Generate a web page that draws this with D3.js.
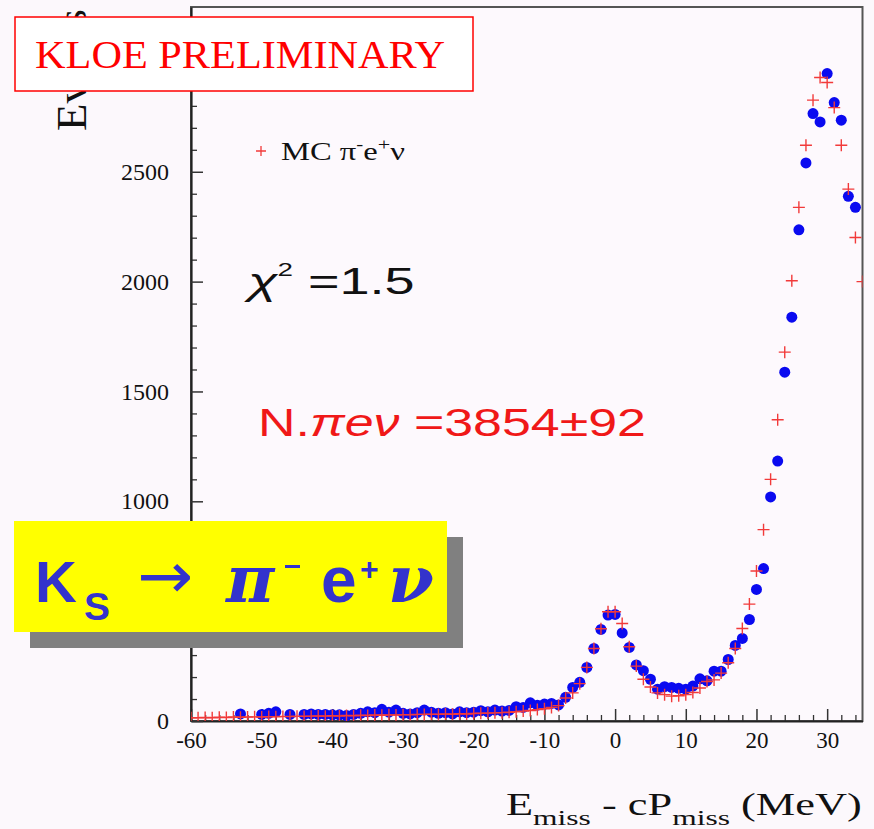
<!DOCTYPE html>
<html>
<head>
<meta charset="utf-8">
<script src="https://cdn.jsdelivr.net/npm/d3@7"></script>
<style>
  html, body { margin: 0; padding: 0; background: #fcf8fc; }
  svg { display: block; }
</style>
</head>
<body>
<svg id="chart" width="874" height="829"></svg>
<script>
// Missing energy minus missing momentum, 1 MeV bins
const dataBins = [-53,-50,-49,-48,-46,-44,-43,-42,-41,-40,-39,-38,-37,-36,-35,-34,-33,-32,-31,-30,
  -29,-28,-27,-26,-25,-24,-23,-22,-21,-20,-19,-18,-17,-16,-15,-14,-13,-12,-11,-10,
  -9,-8,-7,-6,-5,-4,-3,-2,-1,0,1,2,3,4,5,6,7,8,9,10,
  11,12,13,14,15,16,17,18,19,20,21,22,23,24,25,26,27,28,29,30,31,32,33,34];
const dataCounts = [32,30,35,42,30,30,32,30,30,28,28,25,30,35,42,38,53,40,50,35,
  32,38,50,40,35,38,32,42,38,40,47,42,50,45,48,65,62,83,72,77,
  80,73,108,153,176,244,330,417,482,485,401,335,255,229,190,145,156,153,149,145,
  159,192,183,227,227,280,344,376,462,599,694,1020,1183,1588,1838,2236,2540,2765,2727,2947,2815,2735,2388,2338];

const mcBins = [-60,-59,-58,-57,-56,-55,-54,-53,-52,-51,-50,-49,-48,-47,-46,-45,-44,-43,-42,-41,
  -40,-39,-38,-37,-36,-35,-34,-33,-32,-31,-30,-29,-28,-27,-26,-25,-24,-23,-22,-21,
  -20,-19,-18,-17,-16,-15,-14,-13,-12,-11,-10,-9,-8,-7,-6,-5,-4,-3,-2,-1,
  0,1,2,3,4,5,6,7,8,9,10,11,12,13,14,15,16,17,18,19,
  20,21,22,23,24,25,26,27,28,29,30,31,32,33,34,35];
const mcCounts = [15,15,16,15,17,16,18,17,18,19,18,20,19,21,20,22,21,22,23,22,
  24,23,25,24,26,25,27,26,28,27,29,28,30,30,31,30,32,31,33,32,
  34,35,36,37,38,40,42,45,48,52,56,62,70,105,128,170,244,330,420,497,
  497,444,338,250,190,155,128,120,113,115,120,130,150,180,187,218,265,330,421,532,
  683,871,1100,1371,1679,2004,2338,2621,2826,2929,2906,2792,2621,2421,2201,2000];

const xTicks = [-60,-50,-40,-30,-20,-10,0,10,20,30];
const yTicks = [0,500,1000,1500,2000,2500,3000];
// labels of 500 and 3000 sit under the two boxes
const yLabelled = [0,1000,1500,2000,2500];

const svg = d3.select("#chart");
const plotL = 191, plotR = 862.5, plotT = 7, plotB = 721;

const x = d3.scaleLinear().domain([-60, 35]).range([plotL, plotR]);
const y = d3.scaleLinear().domain([0, 3250]).range([plotB, plotT]);

svg.append("defs").append("clipPath").attr("id", "plotClip")
  .append("rect").attr("x", plotL).attr("y", plotT)
  .attr("width", plotR - plotL).attr("height", plotB - plotT);

// frame
svg.append("rect").attr("x", plotL).attr("y", plotT)
  .attr("width", plotR - plotL).attr("height", plotB - plotT)
  .attr("fill", "#fdf9fd").attr("stroke", "#555").attr("stroke-width", 2);

const serif = "'Liberation Serif', 'DejaVu Serif', serif";
const sans = "'Liberation Sans', Arial, sans-serif";

// stretch a text horizontally so it spans the given width, left edge at x0, baseline at y0
function fitText(sel, x0, y0, width) {
  const w = sel.node().getBBox().width;
  sel.attr("transform", `translate(${x0},${y0}) scale(${width / w},1)`);
}

// x axis
const minorX = d3.range(-60, 35.01, 2).filter(v => v % 10 !== 0);
svg.append("g").attr("transform", `translate(0,${plotB})`)
  .call(d3.axisBottom(x).tickValues(minorX).tickSizeInner(-6).tickSizeOuter(0).tickFormat(""))
  .call(g => g.select(".domain").remove())
  .call(g => g.selectAll("line").attr("stroke", "#333").attr("stroke-width", 1.3));
svg.append("g").attr("transform", `translate(0,${plotB})`)
  .call(d3.axisBottom(x).tickValues(xTicks).tickSizeInner(-12).tickSizeOuter(0).tickPadding(11)
    .tickFormat(d => String(d)))
  .call(g => g.select(".domain").attr("stroke", "#222").attr("stroke-width", 2.2))
  .call(g => g.selectAll("line").attr("stroke", "#333").attr("stroke-width", 1.5))
  .call(g => g.selectAll("text").attr("font-family", serif).attr("font-size", 23).attr("fill", "#111"));

// y axis
const minorY = d3.range(0, 3250, 100).filter(v => v % 500 !== 0);
svg.append("g").attr("transform", `translate(${plotL},0)`)
  .call(d3.axisLeft(y).tickValues(minorY).tickSizeInner(-6).tickSizeOuter(0).tickFormat(""))
  .call(g => g.select(".domain").remove())
  .call(g => g.selectAll("line").attr("stroke", "#333").attr("stroke-width", 1.3));
svg.append("g").attr("transform", `translate(${plotL},0)`)
  .call(d3.axisLeft(y).tickValues(yTicks).tickSizeInner(-12).tickSizeOuter(0).tickPadding(22)
    .tickFormat(d => yLabelled.includes(d) ? String(d) : ""))
  .call(g => g.select(".domain").attr("stroke", "#222").attr("stroke-width", 2.2))
  .call(g => g.selectAll("line").attr("stroke", "#333").attr("stroke-width", 1.5))
  .call(g => g.selectAll("text").attr("font-family", serif).attr("font-size", 24).attr("fill", "#111"));

// y title (vertical, glyphs widened like the rest of the frame text)
svg.append("text")
  .attr("transform", "translate(86,131) scale(1.4,1) rotate(-90)")
  .attr("font-family", serif).attr("font-size", 30).attr("fill", "#111")
  .attr("textLength", 122).attr("lengthAdjust", "spacingAndGlyphs")
  .text("Events");

// x title
const xt = svg.append("text")
  .attr("font-family", serif).attr("font-size", 31).attr("fill", "#111");
xt.append("tspan").text("E");
xt.append("tspan").attr("font-size", 22).attr("dy", 10).text("miss");
xt.append("tspan").attr("dy", -10).text(" - cP");
xt.append("tspan").attr("font-size", 22).attr("dy", 10).text("miss");
xt.append("tspan").attr("dy", -10).text(" (MeV)");
fitText(xt, 506, 815, 356);

const plot = svg.append("g").attr("clip-path", "url(#plotClip)");

// data points
const data = dataBins.map((b, i) => ({ b, v: dataCounts[i] }));
plot.selectAll("circle.data").data(data).join("circle")
  .attr("class", "data")
  .attr("cx", d => x(d.b)).attr("cy", d => y(d.v)).attr("r", 5.5)
  .attr("fill", "#0a0af0");

// simulation markers
const mc = mcBins.map((b, i) => ({ b, v: mcCounts[i] }));
const arm = 6;
plot.selectAll("path.mc").data(mc).join("path")
  .attr("class", "mc")
  .attr("d", d => {
    const cx = x(d.b), cy = y(d.v);
    return `M${cx - arm},${cy}H${cx + arm}M${cx},${cy - arm}V${cy + arm}`;
  })
  .attr("stroke", "#f23a3a").attr("stroke-width", 1.4).attr("fill", "none");

// legend
svg.append("path")
  .attr("d", `M${261 - 5},151H${261 + 5}M261,${151 - 5}V${151 + 5}`)
  .attr("stroke", "#f23a3a").attr("stroke-width", 1.3);
const lg = svg.append("text")
  .attr("font-family", serif).attr("font-size", 25).attr("fill", "#111");
lg.append("tspan").text("MC π");
lg.append("tspan").attr("font-size", 16).attr("dy", -10).text("-");
lg.append("tspan").attr("dy", 10).text("e");
lg.append("tspan").attr("font-size", 17).attr("dy", -10).text("+");
lg.append("tspan").attr("dy", 10).text("ν");
fitText(lg, 281, 160, 124);

// chi-square
const chi = svg.append("text")
  .attr("font-family", sans).attr("font-size", 37).attr("fill", "#111");
chi.append("tspan").attr("font-style", "italic").text("χ");
chi.append("tspan").attr("font-size", 19).attr("dy", -18).text("2");
chi.append("tspan").attr("dy", 18).text(" =1.5");
fitText(chi, 248, 294, 171);

// fitted yield
const nf = svg.append("text")
  .attr("font-family", sans).attr("font-size", 39).attr("fill", "#f01818");
nf.append("tspan").text("N.");
nf.append("tspan").attr("font-style", "italic").text("πeν");
nf.append("tspan").text(" =3854±92");
fitText(nf, 258, 436, 388);

// preliminary banner
svg.append("rect").attr("x", 15).attr("y", 17).attr("width", 458).attr("height", 74)
  .attr("fill", "#ffffff").attr("stroke", "#ff0000").attr("stroke-width", 1.5);
svg.append("text").attr("x", 240).attr("y", 68).attr("text-anchor", "middle")
  .attr("font-family", serif).attr("font-size", 41).attr("fill", "#ff0000")
  .attr("textLength", 410).attr("lengthAdjust", "spacingAndGlyphs")
  .text("KLOE PRELIMINARY");

// decay channel box
svg.append("rect").attr("x", 30).attr("y", 537).attr("width", 433).attr("height", 111).attr("fill", "#808080");
svg.append("rect").attr("x", 14).attr("y", 521).attr("width", 433).attr("height", 111).attr("fill", "#ffff00");
const blue = "#3333cc";
const kt = svg.append("g").attr("fill", blue).attr("font-family", sans).attr("font-weight", "bold");
kt.append("text").attr("x", 35).attr("y", 602).attr("font-size", 58).text("K");
kt.append("text").attr("x", 84).attr("y", 620).attr("font-size", 39).text("S");
kt.append("text").attr("x", 137).attr("y", 598).attr("font-size", 64).attr("font-weight", "normal")
  .attr("font-family", "'DejaVu Sans', sans-serif")
  .attr("textLength", 56).attr("lengthAdjust", "spacingAndGlyphs").text("→");
kt.append("text").attr("x", 226).attr("y", 602).attr("font-size", 66)
  .attr("font-family", "'DejaVu Serif', serif").attr("font-style", "italic").text("π");
kt.append("rect").attr("x", 285).attr("y", 565).attr("width", 15).attr("height", 3);
kt.append("text").attr("x", 321).attr("y", 602).attr("font-size", 64).text("e");
kt.append("text").attr("x", 360).attr("y", 580).attr("font-size", 32).text("+");
kt.append("text").attr("x", 388).attr("y", 602).attr("font-size", 66)
  .attr("font-family", "'DejaVu Serif', serif").attr("font-style", "italic").text("ν");
</script>
</body>
</html>
